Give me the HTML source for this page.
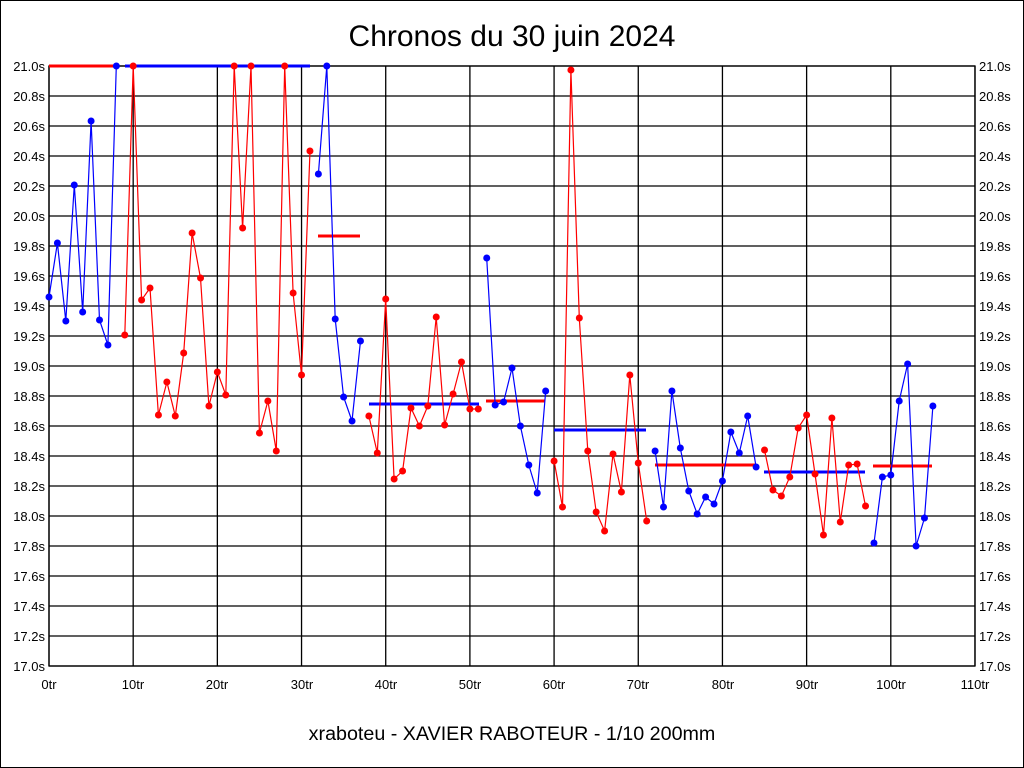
<!DOCTYPE html>
<html><head><meta charset="utf-8"><style>
html,body{margin:0;padding:0;background:#fff}
svg{display:block;font-family:"Liberation Sans",Arial,sans-serif}
</style></head><body>
<svg id="s" width="1024" height="768" viewBox="0 0 1024 768" xmlns="http://www.w3.org/2000/svg">
<rect x="0.5" y="0.5" width="1023" height="767" fill="#fff" stroke="#000"/>
<text x="512" y="46" font-size="30" text-anchor="middle">Chronos du 30 juin 2024</text>
<text x="512" y="740" font-size="19.7" text-anchor="middle">xraboteu - XAVIER RABOTEUR - 1/10 200mm</text>
<g id="grid" stroke="#000" stroke-width="1.3" fill="none"></g>
<g font-size="13" text-anchor="end">
<text x="45" y="71">21.0s</text><text x="45" y="101">20.8s</text><text x="45" y="131">20.6s</text><text x="45" y="161">20.4s</text><text x="45" y="191">20.2s</text><text x="45" y="221">20.0s</text><text x="45" y="251">19.8s</text><text x="45" y="281">19.6s</text><text x="45" y="311">19.4s</text><text x="45" y="341">19.2s</text><text x="45" y="371">19.0s</text><text x="45" y="401">18.8s</text><text x="45" y="431">18.6s</text><text x="45" y="461">18.4s</text><text x="45" y="491">18.2s</text><text x="45" y="521">18.0s</text><text x="45" y="551">17.8s</text><text x="45" y="581">17.6s</text><text x="45" y="611">17.4s</text><text x="45" y="641">17.2s</text><text x="45" y="671">17.0s</text>
</g>
<g font-size="13" text-anchor="start">
<text x="979" y="71">21.0s</text><text x="979" y="101">20.8s</text><text x="979" y="131">20.6s</text><text x="979" y="161">20.4s</text><text x="979" y="191">20.2s</text><text x="979" y="221">20.0s</text><text x="979" y="251">19.8s</text><text x="979" y="281">19.6s</text><text x="979" y="311">19.4s</text><text x="979" y="341">19.2s</text><text x="979" y="371">19.0s</text><text x="979" y="401">18.8s</text><text x="979" y="431">18.6s</text><text x="979" y="461">18.4s</text><text x="979" y="491">18.2s</text><text x="979" y="521">18.0s</text><text x="979" y="551">17.8s</text><text x="979" y="581">17.6s</text><text x="979" y="611">17.4s</text><text x="979" y="641">17.2s</text><text x="979" y="671">17.0s</text>
</g>
<g font-size="13" text-anchor="middle">
<text x="49" y="689">0tr</text><text x="133" y="689">10tr</text><text x="217" y="689">20tr</text><text x="302" y="689">30tr</text><text x="386" y="689">40tr</text><text x="470" y="689">50tr</text><text x="554" y="689">60tr</text><text x="638" y="689">70tr</text><text x="723" y="689">80tr</text><text x="807" y="689">90tr</text><text x="891" y="689">100tr</text><text x="975" y="689">110tr</text>
</g>
<g id="data"></g>
</svg>
<script>
var NS="http://www.w3.org/2000/svg";
function el(p,t,a){var e=document.createElementNS(NS,t);for(var k in a)e.setAttribute(k,a[k]);p.appendChild(e);return e;}
var g=document.getElementById('grid');
for(var i=0;i<=20;i++){var y=66+30*i;el(g,'line',{x1:49,x2:975,y1:y,y2:y});}
for(var i=0;i<=11;i++){var x=49+84.18*i;el(g,'line',{x1:x,x2:x,y1:66,y2:666});}
el(g,'rect',{x:49,y:66,width:926,height:600});
var X=function(i){return 49+8.418*i;};
var groups=[
 ['#00f',0,[297,243,321,185,312,121,320,345,66]],
 ['#f00',9,[335,66,300,288,415,382,416,353,233,278,406,372,395,66,228,66,433,401,451,66,293,375,151]],
 ['#00f',32,[174,66,319,397,421,341]],
 ['#f00',38,[416,453,299,479,471,408,426,406,317,425,394,362,409,409]],
 ['#00f',52,[258,405,402,368,426,465,493,391]],
 ['#f00',60,[461,507,70,318,451,512,531,454,492,375,463,521]],
 ['#00f',72,[451,507,391,448,491,514,497,504,481,432,453,416,467]],
 ['#f00',85,[450,490,496,477,428,415,474,535,418,522,465,464,506]],
 ['#00f',98,[543,477,475,401,364,546,518,406]]
];
var d=document.getElementById('data');
var avg=[['#f00',49,118,66],['#00f',125,310,66],['#f00',318,360,236],['#00f',369,479,404],['#f00',486,545,401],['#00f',554,646,430],['#f00',655,755,465],['#00f',764,865,472],['#f00',873,932,466]];
avg.forEach(function(a){el(d,'line',{x1:a[1],x2:a[2],y1:a[3],y2:a[3],stroke:a[0],'stroke-width':3});});
groups.forEach(function(gr){
 var pts=gr[2].map(function(y,k){return X(gr[1]+k).toFixed(1)+','+y;}).join(' ');
 el(d,'polyline',{points:pts,fill:'none',stroke:gr[0],'stroke-width':1.2});
 gr[2].forEach(function(y,k){el(d,'circle',{cx:X(gr[1]+k),cy:y,r:3.5,fill:gr[0]});});
});
</script>
</body></html>
